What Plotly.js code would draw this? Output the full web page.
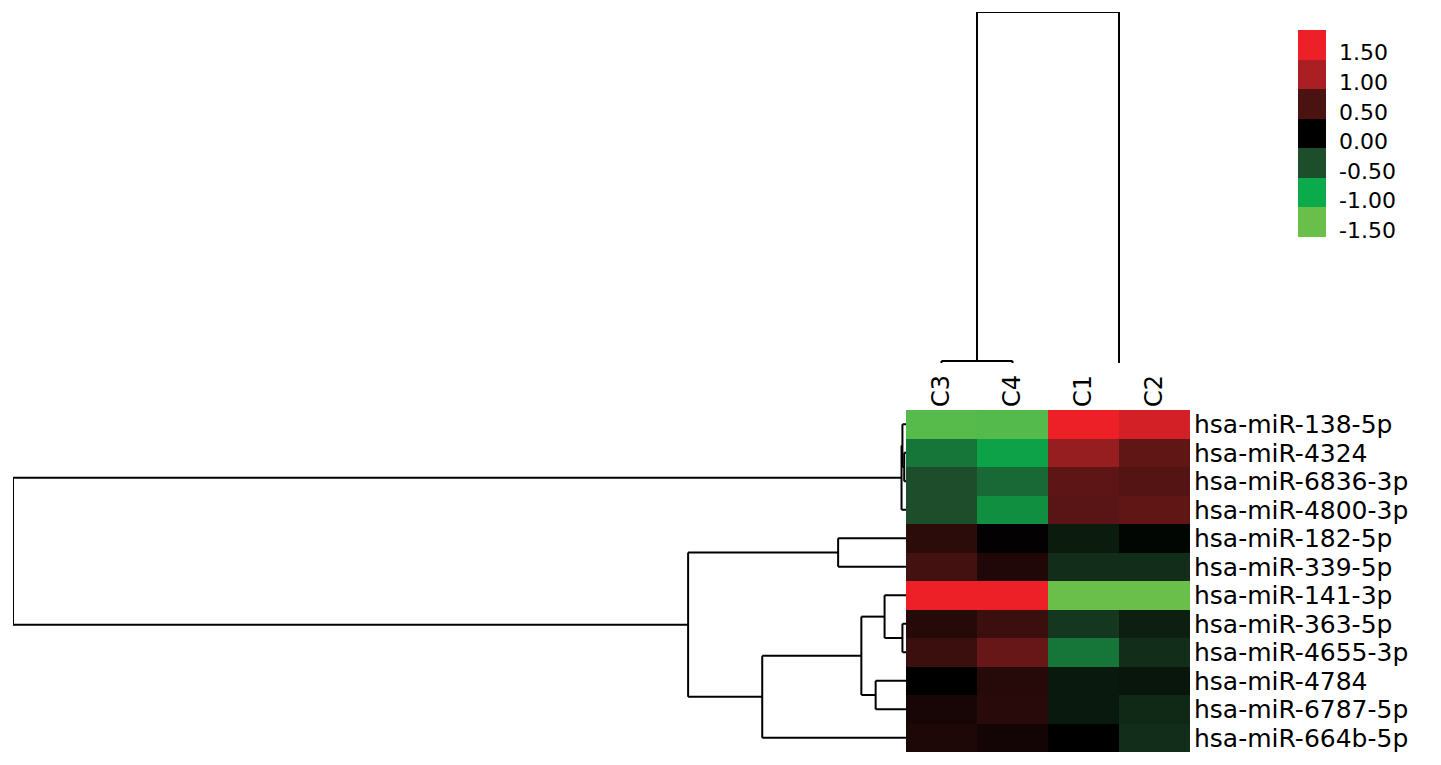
<!DOCTYPE html>
<html>
<head>
<meta charset="utf-8">
<script src="https://cdn.plot.ly/plotly-3.0.1.min.js"></script>
<style>html,body{margin:0;padding:0;background:#fff;}#chart{width:1441px;height:765px;}</style>
</head>
<body>
<div id="chart"></div>
<script>
// ---------- data ----------
const colNames = ['C3', 'C4', 'C1', 'C2'];
const rowNames = ['hsa-miR-138-5p', 'hsa-miR-4324', 'hsa-miR-6836-3p', 'hsa-miR-4800-3p',
  'hsa-miR-182-5p', 'hsa-miR-339-5p', 'hsa-miR-141-3p', 'hsa-miR-363-5p',
  'hsa-miR-4655-3p', 'hsa-miR-4784', 'hsa-miR-6787-5p', 'hsa-miR-664b-5p'];

const c3Values = [-1.40, -0.72, -0.50, -0.50, 0.30, 0.45, 1.50, 0.25, 0.40, 0.00, 0.16, 0.20];
const c4Values = [-1.38, -0.95, -0.65, -0.85, 0.02, 0.22, 1.50, 0.40, 0.66, 0.26, 0.27, 0.13];
const c1Values = [1.50, 0.90, 0.60, 0.58, -0.18, -0.30, -1.50, -0.36, -0.72, -0.16, -0.16, 0.00];
const c2Values = [1.30, 0.62, 0.55, 0.62, -0.04, -0.30, -1.50, -0.20, -0.30, -0.14, -0.26, -0.30];

const legendValues = [1.5, 1.0, 0.5, 0.0, -0.5, -1.0, -1.5];
const legendLabels = ['1.50', '1.00', '0.50', '0.00', '-0.50', '-1.00', '-1.50'];
const legendColors = ['#ee2027', '#a91f24', '#4a1312', '#000000', '#1e4d2b', '#0bab4b', '#6abf4b'];

// hierarchical clustering merges: [childA, childB, height]; leaves are 0..n-1, merge k gets id n+k
const rowMerges = [[1, 2, 0.002], [0, 12, 0.004], [13, 3, 0.005], [4, 5, 0.076], [7, 8, 0.004],
  [6, 16, 0.024], [9, 10, 0.034], [17, 18, 0.050], [19, 11, 0.161], [15, 20, 0.244], [14, 21, 1.0]];
const colMerges = [[0, 1, 0.006], [2, 3, 0.0], [4, 5, 1.0]];

// ---------- helpers ----------
const W = 1441, H = 765;
const px = x => x / W;
const py = y => 1 - y / H;

function dendro(n, merges) {
  const pos = [], hgt = [];
  for (let i = 0; i < n; i++) { pos[i] = i; hgt[i] = 0; }
  const P = [], Hs = [];
  merges.forEach((m, k) => {
    const [a, b, h] = m;
    const id = n + k;
    pos[id] = (pos[a] + pos[b]) / 2;
    hgt[id] = h;
    P.push(pos[a], pos[a], null); Hs.push(hgt[a], h, null);
    if (h > 0) { P.push(pos[a], pos[b], null); Hs.push(h, h, null); }
    P.push(pos[b], pos[b], null); Hs.push(h, hgt[b], null);
  });
  return { P, Hs };
}

const z = rowNames.map((_, i) => [c3Values[i], c4Values[i], c1Values[i], c2Values[i]]);
const zmin = Math.min(...legendValues), zmax = Math.max(...legendValues);
const colorscale = legendValues.map((v, i) => [(v - zmin) / (zmax - zmin), legendColors[i]])
  .sort((a, b) => a[0] - b[0]);

const rowD = dendro(rowNames.length, rowMerges);
const colD = dendro(colNames.length, colMerges);

const FONT = 'DejaVu Sans, Verdana, sans-serif';
const lineStyle = { color: '#000', width: 2 };

const traces = [
  {
    type: 'heatmap', z: z,
    x: colNames.map((_, i) => i), y: rowNames.map((_, i) => i),
    colorscale: colorscale, zmin: zmin, zmax: zmax, showscale: false,
    xaxis: 'x', yaxis: 'y', hoverinfo: 'skip'
  },
  {
    type: 'scatter', mode: 'lines', x: rowD.Hs, y: rowD.P, line: lineStyle,
    xaxis: 'x2', yaxis: 'y', cliponaxis: false, hoverinfo: 'skip', showlegend: false
  },
  {
    type: 'scatter', mode: 'lines', x: colD.P, y: colD.Hs, line: lineStyle,
    xaxis: 'x', yaxis: 'y3', cliponaxis: false, hoverinfo: 'skip', showlegend: false
  },
  {
    type: 'heatmap', z: legendValues.map(v => [v]), x: [0], y: legendValues.map((_, i) => i),
    colorscale: colorscale, zmin: zmin, zmax: zmax, showscale: false,
    xaxis: 'x4', yaxis: 'y4', hoverinfo: 'skip'
  }
];

const hidden = { showgrid: false, zeroline: false, showticklabels: false, showline: false, ticks: '' };

const layout = {
  width: W, height: H,
  margin: { l: 0, r: 0, t: 0, b: 0, pad: 0 },
  paper_bgcolor: '#fff', plot_bgcolor: '#fff',
  showlegend: false,
  xaxis: {
    domain: [px(906), px(1190)], range: [-0.5, colNames.length - 0.5], anchor: 'y',
    side: 'top', tickvals: colNames.map((_, i) => i), ticktext: colNames, tickangle: -90,
    ticks: '', showgrid: false, zeroline: false, showline: false,
    tickfont: { family: FONT, size: 24, color: '#000' }, ticklabelstandoff: 2
  },
  yaxis: {
    domain: [py(752), py(410)], range: [rowNames.length - 0.5, -0.5], anchor: 'x',
    side: 'right', tickvals: rowNames.map((_, i) => i), ticktext: rowNames,
    ticks: '', showgrid: false, zeroline: false, showline: false,
    tickfont: { family: FONT, size: 25, color: '#000' }, ticklabelstandoff: 3
  },
  xaxis2: Object.assign({ domain: [px(13), px(906)], range: [1, 0], anchor: 'y' }, hidden),
  yaxis3: Object.assign({ domain: [py(363), py(12)], range: [0, 1], anchor: 'x' }, hidden),
  xaxis4: Object.assign({ domain: [px(1298), px(1326)], range: [-0.5, 0.5], anchor: 'y4' }, hidden),
  yaxis4: {
    domain: [py(237), py(30)], range: [legendValues.length - 0.5, -0.5], anchor: 'x4',
    side: 'right', tickvals: legendValues.map((_, i) => i + 0.27), ticktext: legendLabels,
    ticks: '', showgrid: false, zeroline: false, showline: false,
    tickfont: { family: FONT, size: 22, color: '#000' }, ticklabelstandoff: 12
  },
  shapes: [
    { type: 'rect', xref: 'paper', yref: 'paper', x0: px(1190), x1: 1, y0: 0, y1: py(752),
      fillcolor: '#fff', line: { width: 0 }, layer: 'above' }
  ]
};

Plotly.newPlot('chart', traces, layout, { staticPlot: true, displayModeBar: false });
</script>
</body>
</html>
